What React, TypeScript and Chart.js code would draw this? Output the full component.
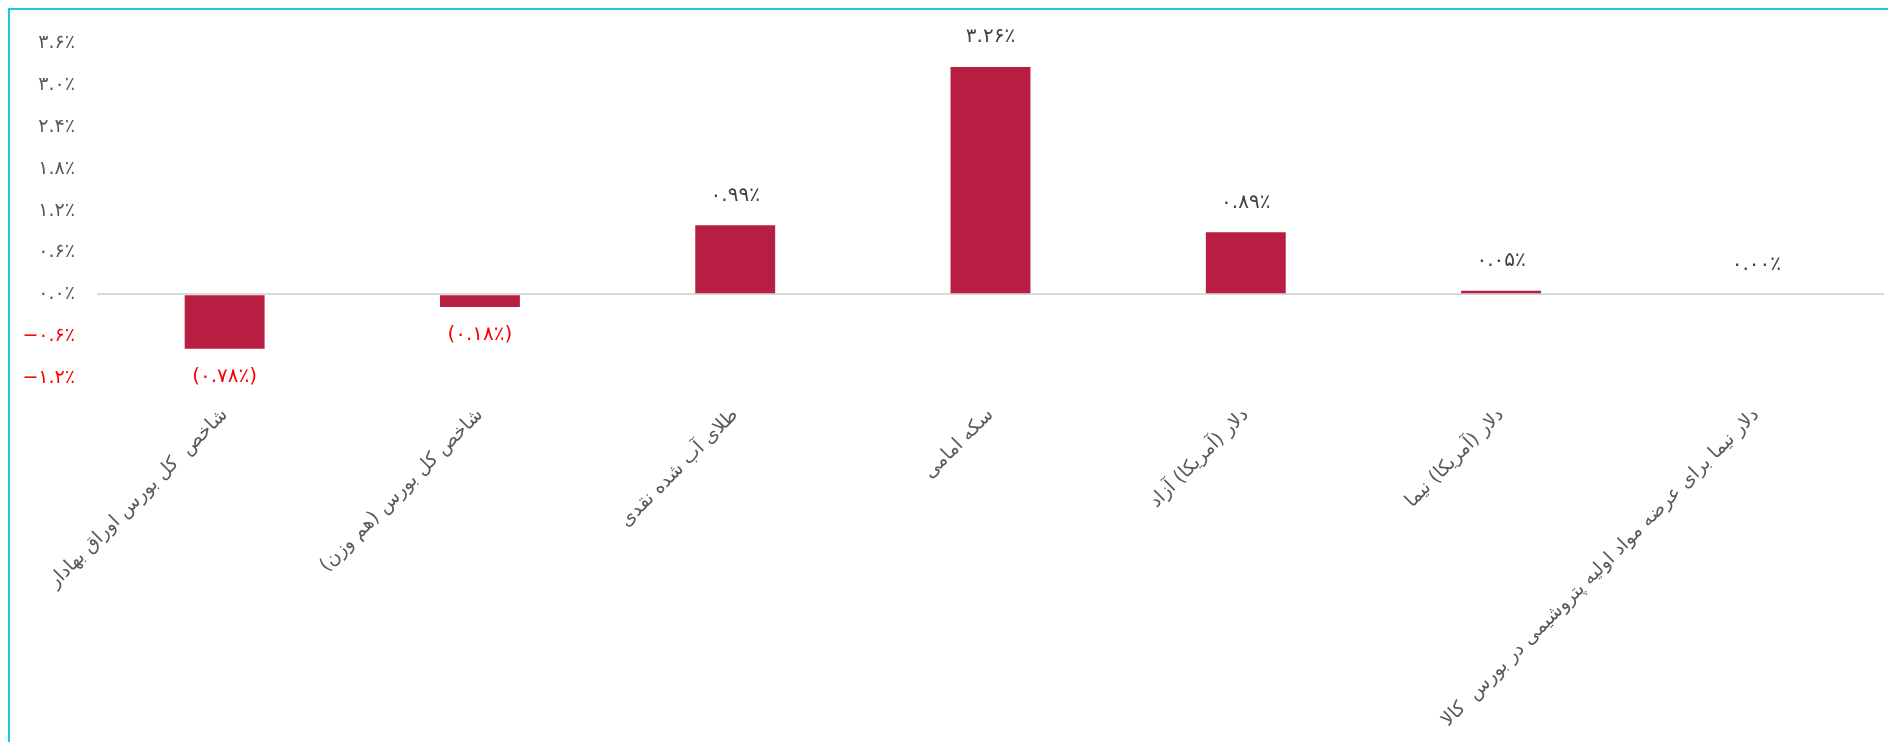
import React, { useEffect, useRef } from "react";
import { Chart, registerables } from "chart.js";

Chart.register(...registerables);

const categories = [
  "شاخص  کل بورس اوراق بهادار",
  "شاخص کل بورس (هم وزن)",
  "طلای آب شده نقدی",
  "سکه امامی",
  "دلار (آمریکا) آزاد",
  "دلار (آمریکا) نیما",
  "دلار نیما برای عرضه مواد اولیه پتروشیمی در بورس  کالا",
];
const values = [-0.78, -0.18, 0.99, 3.26, 0.89, 0.05, 0.0];
const yTicks = [-1.2, -0.6, 0, 0.6, 1.2, 1.8, 2.4, 3.0, 3.6];

const BAR_COLOR = "#B81E42";
const TEXT_COLOR = "#595959";
const VALUE_COLOR = "#404040";
const NEG_COLOR = "#FF0000";
const FONT = "'DejaVu Sans', sans-serif";

const fa = (s: string) => s.replace(/\d/g, (d) => "۰۱۲۳۴۵۶۷۸۹"[+d]);

const tickLabel = (v: number) =>
  v < 0 ? "−" + fa(Math.abs(v).toFixed(1)) + "٪" : fa(v.toFixed(1)) + "٪";

const valueLabel = (v: number) =>
  v < 0 ? "(" + fa(Math.abs(v).toFixed(2)) + "٪)" : fa(v.toFixed(2)) + "٪";

const valueLabelsPlugin = {
  id: "valueLabels",
  afterDatasetsDraw(chart: any) {
    const ctx = chart.ctx;
    const meta = chart.getDatasetMeta(0);
    ctx.save();
    ctx.font = "20px " + FONT;
    ctx.textAlign = "center";
    ctx.textBaseline = "middle";
    meta.data.forEach((el: any, i: number) => {
      const v = values[i];
      const neg = v < 0;
      ctx.fillStyle = neg ? NEG_COLOR : VALUE_COLOR;
      const y = neg ? el.y + 28 : el.y - 30;
      ctx.fillText(valueLabel(v), el.x, y);
    });
    ctx.restore();
  },
};

export default function App() {
  const ref = useRef<HTMLCanvasElement | null>(null);

  useEffect(() => {
    if (!ref.current) return;
    const chart = new Chart(ref.current, {
      type: "bar",
      data: {
        labels: categories.map((c) => "\u200F" + c + "\u200F"),
        datasets: [
          {
            data: values,
            backgroundColor: BAR_COLOR,
            borderWidth: 0,
            categoryPercentage: 1,
            barPercentage: 0.313,
          },
        ],
      },
      options: {
        responsive: false,
        animation: false,
        devicePixelRatio: 1,
        layout: { padding: { top: 26, right: 8, left: 0, bottom: 0 } },
        plugins: {
          legend: { display: false },
          tooltip: { enabled: false },
        },
        scales: {
          x: {
            grid: { display: false },
            border: { display: false },
            ticks: {
              autoSkip: false,
              minRotation: 45,
              maxRotation: 45,
              color: TEXT_COLOR,
              font: { family: FONT, size: 19 },
              padding: 18,
            },
            afterFit: (scale: any) => {
              scale.height = 364;
              scale.paddingLeft = 0;
              scale.paddingRight = 0;
            },
          },
          y: {
            min: -1.2,
            max: 3.6,
            afterBuildTicks: (scale: any) => {
              scale.ticks = yTicks.map((v) => ({ value: v }));
            },
            afterFit: (scale: any) => {
              scale.width = 87;
            },
            border: { display: false },
            grid: {
              drawTicks: false,
              lineWidth: 2,
              color: (c: any) =>
                c.tick && c.tick.value === 0 ? "#D9D9D9" : "rgba(0,0,0,0)",
            },
            ticks: {
              padding: 22,
              color: (c: any) => (c.tick && c.tick.value < 0 ? NEG_COLOR : TEXT_COLOR),
              font: { family: FONT, size: 19 },
              callback: (v: any) => tickLabel(Number(v)),
            },
          },
        },
      },
      plugins: [valueLabelsPlugin],
    });
    return () => chart.destroy();
  }, []);

  return (
    <div
      style={{
        width: 1886,
        height: 734,
        boxSizing: "border-box",
        border: "2px solid #19CADC",
        borderBottom: "none",
        background: "#fff",
      }}
    >
      <canvas ref={ref} width={1882} height={732} style={{ display: "block" }} />
    </div>
  );
}
